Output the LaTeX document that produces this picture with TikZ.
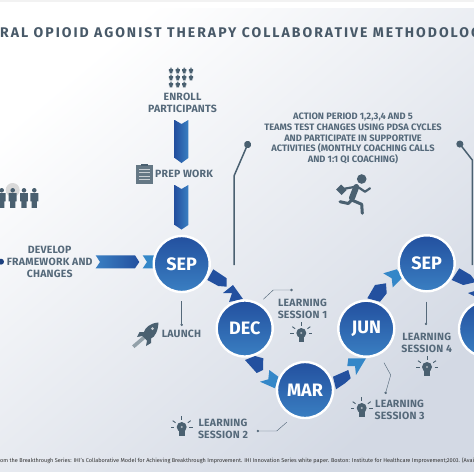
\documentclass[tikz,border=0pt]{standalone}
\usepackage{fontspec}
\setmainfont{Fira Sans}
\newfontfamily\titlefont[LetterSpace=14.4]{Fira Sans}
\newfontfamily\labelfont[LetterSpace=2]{Fira Sans}
\usetikzlibrary{arrows.meta,positioning,calc}
\definecolor{slate}{HTML}{55697A}
\definecolor{iconc}{HTML}{4A6070}
\definecolor{deepb}{HTML}{23509F}
\definecolor{midb}{HTML}{3A7FC2}
\definecolor{lightb}{HTML}{3487C8}
\definecolor{backend}{HTML}{D3D9E4}

\begin{document}
\begin{tikzpicture}[
  x=1pt, y=-1pt,
  month/.style={circle, draw=white, line width=2.4pt, minimum size=56pt, inner sep=0pt,
                top color=deepb, bottom color=midb, text=white,
                font=\fontsize{18}{18}\selectfont\bfseries},
  lab/.style={font=\fontsize{10.5}{12}\labelfont\bfseries, text=slate, align=center, inner sep=0pt},
  smalllab/.style={font=\fontsize{9.3}{10.7}\selectfont\bfseries, text=slate, align=center, inner sep=0pt},
  pillar/.style={draw=iconc, line width=1.5pt, -{Circle[length=7pt]}},
  leader/.style={draw=slate, line width=.45pt, -{Circle[length=2.4pt]}},
  downband/.style={left color=deepb, right color=midb},
  darkband/.style={fill=deepb},
  paleband/.style={fill=lightb},
  bulb/.pic={
    \fill[iconc] (0,0) circle (5);
    \fill[iconc] (-2.8,3) rectangle (2.8,9);
    \fill[iconc!45] (0,0) circle (1.1);
    \foreach \a in {0,-35,-90,-145,-180}
      \draw[iconc, line width=.9pt] (\a:7.5) -- (\a:11);
  },
  person/.pic={
    \fill[iconc] (0,2.4) circle (2.4);
    \fill[iconc] (-4.2,5.4) -- (4.2,5.4) -- (4.2,14) -- (2.8,14) -- (2.8,21)
      -- (-2.8,21) -- (-2.8,14) -- (-4.2,14) -- cycle;
  }
]

\useasboundingbox (0,0) rectangle (474,474);
\clip (0,0) rectangle (474,474);

% ---------------- backdrop ----------------
\fill[white] (0,0) rectangle (474,474);
\fill[black!5] (0,0) rectangle (474,2);
\shade[left color=white, right color=backend, shading angle=40]
  (0,8) rectangle (474,471);

\node[font=\fontsize{14}{14}\titlefont\bfseries, text=slate!85!black, anchor=west, inner sep=0pt] (title) at (0,33)
  {RAL OPIOID AGONIST THERAPY COLLABORATIVE METHODOLOG};
\node[font=\fontsize{5.55}{7}\selectfont, text=black!80, anchor=west, inner sep=0pt] (source) at (0,460.5)
  {om the Breakthrough Series: IHI's Collaborative Model for Achieving Breakthrough Improvement. IHI Innovation Series white paper. Boston: Institute for Healthcare Improvement;2003. (Availab};

% ---------------- chevrons ----------------
\shade[downband] (174.7,120) -- (181.5,124) -- (188.3,120) -- (188.3,158) -- (181.5,163) -- (174.7,158) -- cycle;
\shade[downband] (174.7,185) -- (181.5,189) -- (188.3,185) -- (188.3,225) -- (181.5,229.5) -- (174.7,225) -- cycle;
\shade[left color=midb, right color=deepb]
  (95.7,255.3) -- (135,255.3) -- (139.3,262) -- (135,268.3) -- (95.7,268.3) -- (100,262) -- cycle;
\fill[paleband] (142.7,255.3) -- (155,255.3) -- (155,268.3) -- (142.7,268.3) -- (147,262) -- cycle;

\fill[darkband] (213.3,269.3) -- (226.7,278.3) -- (226.7,286.7) -- (218.3,286) -- (207.3,280) -- cycle;
\fill[darkband] (233,285) -- (243,299) -- (229,302) -- (232,293) -- (223,293) -- cycle;
\fill[darkband] (255,356) -- (263.3,358.3) -- (263,370) -- (256.7,373) -- (245,360) -- cycle;
\fill[paleband] (269.3,370) -- (278.3,376.7) -- (275,388.3) -- (260,381.7) -- (268.3,379.3) -- cycle;
\fill[darkband] (333,376.7) -- (348.3,370) -- (350.7,378.3) -- (345,383.3) -- (336,389.3) -- cycle;
\fill[paleband] (348.3,358.3) -- (366,358.3) -- (356,375) -- (355,366) -- (347.3,366) -- cycle;
\fill[darkband] (367.3,298.3) -- (375,285) -- (386,283.3) -- (386.7,293.3) -- (380,301.7) -- cycle;
\fill[paleband] (383.3,273.3) -- (396.7,269.3) -- (403,277) -- (392.7,287.3) -- (391.7,278.3) -- cycle;
\fill[darkband] (459.3,268.3) -- (470.7,275) -- (476,282) -- (463.3,285) -- (451.7,280) -- cycle;
\fill[darkband] (468,293) -- (478,290) -- (488,304) -- (474,306) -- (476,297) -- cycle;

% ---------------- months ----------------
\node[month] (sepa) at (181.7,264) {SEP};
\node[month] (dec) at (244.7,328.5) {DEC};
\node[month] (mar) at (305,390) {MAR};
\node[month] (jun) at (366.3,328.7) {JUN};
\node[month] (sepb) at (426.7,263.3) {SEP};
\node[month] (next) at (487,329) {};

% ---------------- labels ----------------
\node[lab] (enroll) at (182.5,103) {ENROLL\\PARTICIPANTS};
\node[lab] (prep) at (184,174) {PREP WORK};
\node[lab] (develop) at (49.7,262) {DEVELOP\\FRAMEWORK AND\\CHANGES};
\node[lab] (launch) at (181.5,334.3) {LAUNCH};
\node[lab] (lsa) at (302.5,309) {LEARNING\\SESSION 1};
\node[lab] (lsb) at (223,429.3) {LEARNING\\SESSION 2};
\node[lab] (lsc) at (399.6,410.3) {LEARNING\\SESSION 3};
\node[lab] (lsd) at (426.7,342.5) {LEARNING\\SESSION 4};
\node[smalllab] (action) at (353,138.7)
  {ACTION PERIOD 1,2,3,4 AND 5\\TEAMS TEST CHANGES USING PDSA CYCLES\\AND PARTICIPATE IN SUPPORTIVE\\ACTIVITIES (MONTHLY COACHING CALLS\\AND 1:1 QI COACHING)};

% ---------------- leaders ----------------
\coordinate (lsaend) at (292.7,290);
\coordinate (lsaknee) at (273.3,290);
\coordinate (lsbend) at (256.7,431);
\coordinate (lsbknee) at (276.7,431);
\coordinate (lscend) at (385.3,394);
\coordinate (lscknee) at (390.7,375);
\coordinate (lsdend) at (426,325);
\coordinate (launchend) at (181.7,326);

\draw[leader] ($(sepa.south)+(0,8)$) -- (launchend);
\draw[leader] ($(dec)+(18.6,-29.2)$) -- (lsaknee) -- (lsaend);
\draw[leader] ($(mar)+(-18.3,32.3)$) -- (lsbknee) -- (lsbend);
\draw[leader] ($(jun)+(17.7,34)$) -- (lscknee) -- (lscend);
\draw[leader] ($(sepb.south)+(-.7,9)$) -- (lsdend);
\fill[deepb!80!black] (1,261.7) circle (3);

% ---------------- action period markers ----------------
\coordinate (pila) at (234,265);
\coordinate (pilaknee) at (234,176);
\coordinate (pilatop) at (249,141.3);
\coordinate (pilb) at (472.3,265);
\coordinate (pilbknee) at (472.3,160);
\coordinate (pilbtop) at (457.7,141.3);
\draw[pillar] (pila) -- (pilaknee) -- (pilatop);
\draw[pillar] (pilb) -- (pilbknee) -- (pilbtop);

% ---------------- icons ----------------
\pic at (301.3,333) {bulb};
\pic at (181.7,427) {bulb};
\pic at (361.7,408) {bulb};
\pic at (427,367) {bulb};

\foreach \x in {171,177.7,184.3,191} {
  \pic[xscale=.5, yscale=.28] at (\x,67.5) {person};
  \pic[xscale=.5, yscale=.28] at (\x,74.5) {person};
}
\foreach \x in {171,177.7,184.3}
  \pic[xscale=.5, yscale=.28] at (\x,81.5) {person};

\fill[black!15] (12.7,190) circle (7);
\pic[scale=.95] at (1.7,188) {person};
\pic[scale=.95] at (12.7,188) {person};
\pic[scale=.95] at (24,188) {person};
\pic[scale=.95] at (34.3,188) {person};

% clipboard
\fill[iconc!85] (136,165) rectangle (153,184);
\fill[iconc] (141,163.5) rectangle (148,166);
\foreach \y in {169,172.5,176,179.5}
  \draw[white!70!iconc, line width=.8pt] (139,\y) -- (150,\y);

% runner
\fill[iconc] (361.7,179) circle (4.8);
\draw[iconc, line width=6pt, line cap=round] (356.2,187) -- (352,198);
\draw[iconc, line width=2.2pt, line cap=round, line join=round]
  (358,187) -- (365,191.7) -- (370,188.3);
\draw[iconc, line width=2.2pt, line cap=round] (354,187) -- (343,189);
\draw[iconc, line width=3pt, line cap=round, line join=round]
  (351.7,200) -- (348.3,203.5) -- (340,201.7);
\draw[iconc, line width=3pt, line cap=round, line join=round]
  (351.7,200) -- (361.7,204.3) -- (362.3,213.3);
\fill[iconc] (341,184.5) -- (346.5,190) -- (341.5,195) -- (336,189.5) -- cycle;

% rocket
\draw[iconc!60, line width=3.6pt] (133.3,346.7) -- (144,337.5);
\fill[iconc] (158.5,322.5) .. controls (150,323) and (145,328) .. (144,332)
  -- (139.5,332) -- (137,337) -- (142.5,336) -- (147,340.5) -- (146,346) -- (151,343)
  -- (151,338.5) .. controls (155,337) and (158,331) .. (158.5,322.5) -- cycle;
\fill[white!70!iconc] (152.5,328.5) circle (1.5);

\end{tikzpicture}
\end{document}
